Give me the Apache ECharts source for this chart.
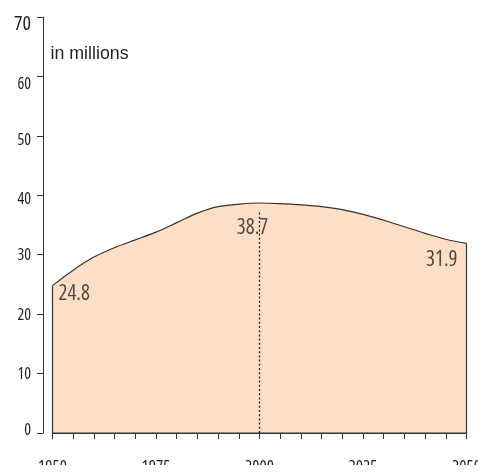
<!DOCTYPE html>
<html>
<head>
<meta charset="utf-8">
<script src="https://cdn.jsdelivr.net/npm/echarts@6/dist/echarts.min.js"></script>
<style>
html,body{margin:0;padding:0;background:#fff;}
#chart{width:478px;height:465px;}
</style>
</head>
<body>
<div id="chart"></div>
<script>
// ---- data ----
const years = [1950,1955,1960,1965,1970,1975,1980,1985,1990,1995,2000,2005,2010,2015,2020,2025,2030,2035,2040,2045,2050];
const population = [24.8,27.4,29.6,31.2,32.5,33.8,35.4,37.0,38.1,38.5,38.7,38.6,38.4,38.1,37.6,36.8,35.8,34.7,33.6,32.6,31.9];
const labelledYears = [1950,2000,2050];
const yTicks = [0,10,20,30,40,50,60,70];
const xLabelYears = [1950,1975,2000,2025,2050];
const markerYear = 2000;
const markerTop = 37.2;
const unitText = 'in millions';

const FONT_N = '"Open Sans",sans-serif';
const STRETCH = '500 condensed';
const FONT = '"Liberation Sans",Arial,sans-serif';
const INK = '#231f20';

const mainData = years.map((y,i)=>[y,population[i]]);
const firstIdx = 0, lastIdx = years.length-1;
const outline = [
  [years[lastIdx], population[lastIdx]],
  [years[lastIdx], yTicks[0]],
  [years[firstIdx], yTicks[0]],
  [years[firstIdx], population[firstIdx]]
];
const labelStyles = {
  1950: {align:'left', offset:[6,-2]},
  2000: {align:'center', offset:[-7,15]},
  2050: {align:'right', offset:[-9,6]}
};
const labelData = labelledYears.map(y=>{
  const v = population[years.indexOf(y)];
  const s = labelStyles[y];
  return {value:[y,v], label:{show:true, position:'inside', align:s.align, verticalAlign:'top', offset:s.offset,
    formatter: v.toFixed(1), fontFamily:FONT_N, fontStyle:'normal', fontWeight:STRETCH, fontSize:21, color:INK}};
});

const yShift = {70:'big', 60:'dn', 50:'dn2', 40:'dn2', 0:'up2'};
const numStyle = {fontFamily:FONT_N, fontStyle:'normal', fontWeight:STRETCH, fontSize:16, color:INK};

const chart = echarts.init(document.getElementById('chart'), null, {renderer:'canvas'});
chart.setOption({
  animation:false,
  backgroundColor:'#ffffff',
  title:{text:unitText, left:50.5, top:45, padding:0,
    textStyle:{fontFamily:FONT, fontSize:17.8, fontWeight:'normal', color:INK}},
  grid:{left:52.5, right:11.5, top:17, bottom:32, outerBoundsMode:'none', containLabel:false},
  xAxis:{
    type:'value', min:1950, max:2050, interval:5, offset:8.5,
    axisLine:{show:true, lineStyle:{color:'#333', width:1}},
    axisTick:{show:true, length:6, lineStyle:{color:'#333', width:1}},
    splitLine:{show:false},
    axisLabel:Object.assign({show:true, margin:17, fontSize:17,
      showMinLabel:true, showMaxLabel:true, hideOverlap:false,
      formatter:v=> xLabelYears.indexOf(v)>=0 ? String(v) : ''}, {fontFamily:FONT_N, fontStyle:'normal', fontWeight:STRETCH, color:INK})
  },
  yAxis:{
    type:'value', min:0, max:70, interval:10, offset:9.5,
    axisLine:{show:true, lineStyle:{color:'#333', width:1}},
    axisTick:{show:true, length:6, lineStyle:{color:'#333', width:1}},
    splitLine:{show:false},
    axisLabel:Object.assign({show:true, margin:12,
      formatter:v=>{
        const k = yShift[v];
        return k ? '{'+k+'|'+v+'}' : '{n|'+v+'}';
      },
      rich:{
        big:Object.assign({}, numStyle, {fontSize:20, padding:[15,0,0,0]}),
        dn:Object.assign({}, numStyle, {padding:[16,0,0,0]}),
        dn2:Object.assign({}, numStyle, {padding:[9,0,0,0]}),
        up2:Object.assign({}, numStyle, {padding:[0,0,6,0]}),
        n:Object.assign({}, numStyle, {padding:[2,0,0,0]})
      }}, numStyle)
  },
  series:[
    {type:'line', data:mainData, smooth:0.35, symbol:'none', z:2,
     lineStyle:{color:'#333', width:1.2},
     areaStyle:{color:'#fcdfc6', opacity:1}},
    {type:'line', data:outline, smooth:false, symbol:'none', z:3,
     lineStyle:{color:'#333', width:1.2}},
    {type:'line', data:[[markerYear,yTicks[0]],[markerYear,markerTop]], symbol:'none', z:4,
     lineStyle:{color:'#222', width:1.3, type:[2,2.2]}},
    {type:'scatter', data:labelData, symbolSize:1, itemStyle:{color:'rgba(0,0,0,0)'}, z:5}
  ]
});
</script>
</body>
</html>
